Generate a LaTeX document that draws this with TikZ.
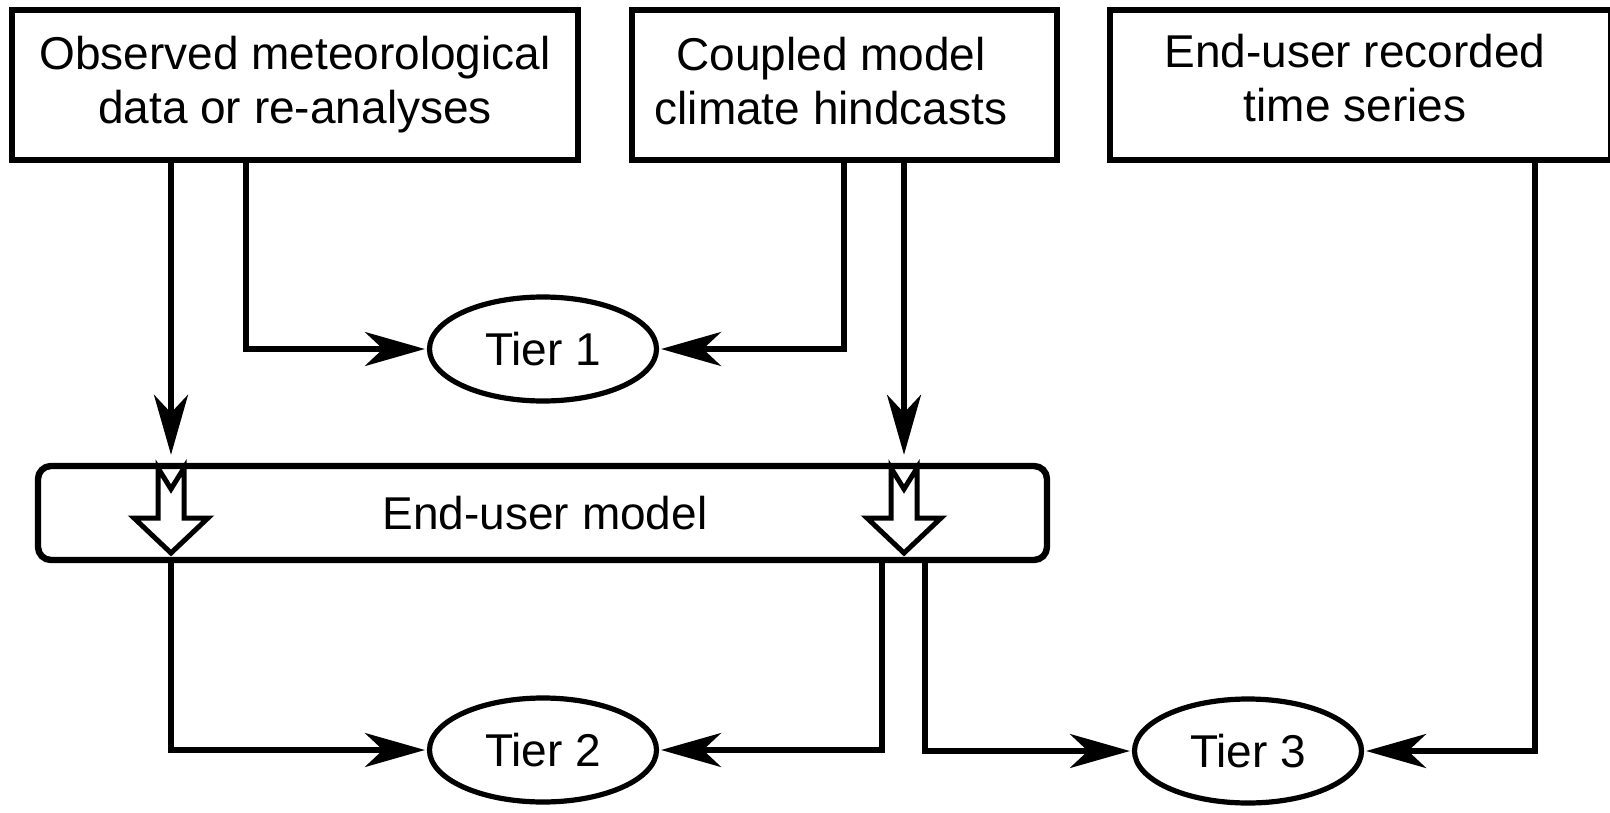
\documentclass[tikz,border=0pt]{standalone}
\usepackage{fontspec}
\setmainfont{Liberation Sans}
\usetikzlibrary{arrows.meta,shapes.geometric}
\begin{document}
\begin{tikzpicture}[x=0.5pt,y=-0.5pt,
  every node/.style={font=\fontsize{23}{27}\selectfont, inner sep=0pt, align=center},
  srcbox/.style={draw, line width=3pt, rectangle},
  tier/.style={draw, line width=2.6pt, ellipse, minimum width=113.5pt, minimum height=52pt},
  conn/.style={line width=2.6pt, -{Stealth[length=30pt,width=17pt,inset=9pt]}},
  hollow/.style={draw, line width=2.5pt, fill=white, line join=miter}
]
\useasboundingbox (0,0) rectangle (1610,813);

% source boxes
\node[srcbox, minimum width=283pt, minimum height=75pt] (obs) at (295,85) {};
\node (obst) at (295,85) {Observed meteorological\\data or re-analyses};
\node[srcbox, minimum width=212.5pt, minimum height=75pt] (cpl) at (844.5,85) {};
\node (cplt) at (831,81) {Coupled model\\climate hindcasts};
\node[srcbox, minimum width=250.5pt, minimum height=75pt] (rec) at (1360.5,85) {};
\node (rect) at (1355,78) {End-user recorded\\time series};

% end-user model
\node[draw, line width=3.2pt, rounded corners=6.5pt, minimum width=504.5pt, minimum height=47pt] (eum) at (542.5,513) {};
\node (eumt) at (545,513) {End-user model};

% tiers
\node[tier] (t1) at (543,349) {Tier 1};
\node[tier] (t2) at (543,750) {Tier 2};
\node[tier] (t3) at (1248,751) {Tier 3};

% x positions of connectors
\coordinate (xa) at (171,0);
\coordinate (xb) at (246,0);
\coordinate (xc) at (844,0);
\coordinate (xd) at (904,0);
\coordinate (xe) at (171,0);
\coordinate (xf) at (882,0);
\coordinate (xg) at (925,0);
\coordinate (xh) at (1535,0);

% connectors
\draw[conn, shorten >=4pt] (obs.south -| xa) -- (eum.north -| xa);
\draw[conn, shorten >=1pt] (obs.south -| xb) |- (t1.west);
\draw[conn, shorten >=1pt] (cpl.south -| xc) |- (t1.east);
\draw[conn, shorten >=4pt] (cpl.south -| xd) -- (eum.north -| xd);
\draw[conn, shorten >=1pt] (eum.south -| xe) |- (t2.west);
\draw[conn, shorten >=1pt] (eum.south -| xf) |- (t2.east);
\draw[conn, shorten >=1pt] (eum.south -| xg) |- (t3.west);
\draw[conn, shorten >=1pt] (rec.south -| xh) |- (t3.east);

% hollow arrows inside end-user model
\foreach \cx in {171,904}{
  \draw[hollow] (\cx-13,468) -- (\cx,489) -- (\cx+13,468) -- (\cx+13,518)
    -- (\cx+37,518) -- (\cx,553) -- (\cx-37,518) -- (\cx-13,518) -- cycle;
}
\end{tikzpicture}
\end{document}
